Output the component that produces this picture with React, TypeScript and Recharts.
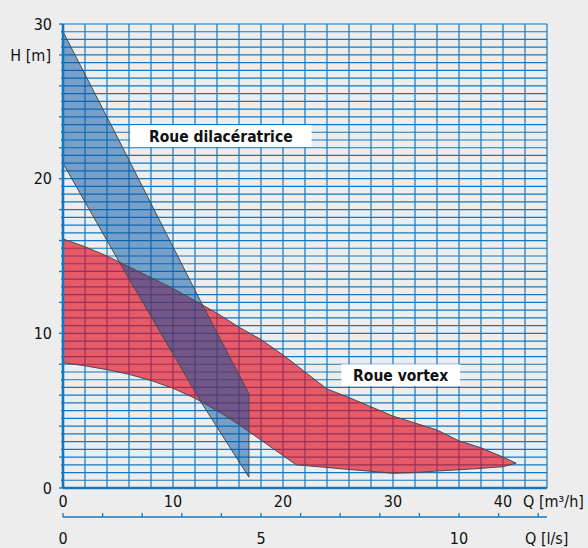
import React from "react";
import {
  ComposedChart,
  Area,
  Line,
  XAxis,
  YAxis,
  CartesianGrid,
  ReferenceArea,
  Label,
} from "recharts";

// Roue vortex: flow Q [m³/h] with the lower and upper head H [m] of the field
const vortexQ = [0, 2, 4, 6, 8, 10, 12, 14, 16, 18, 20, 21.2, 22, 24, 26, 28, 30, 32, 34, 36, 38, 40, 41.2];
const vortexLow = [8.1, 7.9, 7.65, 7.35, 6.95, 6.45, 5.8, 5.0, 4.1, 3.1, 2.1, 1.5, 1.45, 1.33, 1.2, 1.08, 0.95, 1.0, 1.1, 1.18, 1.27, 1.38, 1.6];
const vortexHigh = [16.1, 15.6, 15.0, 14.3, 13.6, 12.9, 12.1, 11.3, 10.4, 9.6, 8.6, 7.95, 7.5, 6.4, 5.85, 5.25, 4.65, 4.2, 3.75, 3.05, 2.6, 2.0, 1.6];

// Roue dilacératrice
const shredderQ = [0, 5, 12.6, 16.9];
const shredderLow = [21.0, 14.75, 5.5, 0.7];
const shredderHigh = [29.5, 22.6, 11.95, 6.1];

const qLabels = [0, 10, 20, 30, 40];
const hLabels = [0, 10, 20, 30];
const lsLabels = [0, 5, 10];

const Q_MAX = 44;
const M3H_PER_LS = 3.6;
const qGrid = Array.from({ length: Q_MAX / 2 + 1 }, (_, i) => i * 2);
const hGrid = Array.from({ length: 61 }, (_, i) => i / 2);
const lsTicks = Array.from({ length: 13 }, (_, i) => i);

const GRID = "#1577c2";
const FONT = "'Liberation Sans Narrow', 'DejaVu Sans Condensed', 'DejaVu Sans', sans-serif";

const band = (qs: number[], lo: number[], hi: number[]) =>
  qs.map((q, i) => ({ q, band: [lo[i], hi[i]] }));

const outline = (qs: number[], lo: number[], hi: number[]) => {
  const top = qs.map((q, i) => ({ q, h: hi[i] }));
  const bottom = qs.map((q, i) => ({ q, h: lo[i] })).reverse();
  return [...top, ...bottom, top[0]];
};

const vortexBand = band(vortexQ, vortexLow, vortexHigh);
const shredderBand = band(shredderQ, shredderLow, shredderHigh);
const vortexLine = outline(vortexQ, vortexLow, vortexHigh);
const shredderLine = outline(shredderQ, shredderLow, shredderHigh);
// same outline in l/s, only so the second axis gets a scale
const vortexLineLs = vortexLine.map((d) => ({ ls: d.q / M3H_PER_LS, h: d.h }));

const textStyle = { fontFamily: FONT, fontSize: 16, fill: "#111" };

const HTick = ({ x, y, payload }: any) => {
  const v = payload.value;
  const len = v % 2 === 0 ? 4 : 2;
  return (
    <g>
      <line x1={x - len} x2={x} y1={y} y2={y} stroke={GRID} strokeWidth={1.3} />
      {hLabels.includes(v) && (
        <text x={x - 11} y={y} dy="0.36em" textAnchor="end" style={textStyle}>
          {v}
        </text>
      )}
    </g>
  );
};

const QTick = ({ x, y, payload }: any) =>
  qLabels.includes(payload.value) ? (
    <text x={x} y={y + 13} dy="0.36em" textAnchor="middle" style={textStyle}>
      {payload.value}
    </text>
  ) : (
    <g />
  );

const LsTick = ({ x, y, payload }: any) => (
  <g>
    <line x1={x} x2={x} y1={y} y2={y - 4} stroke={GRID} strokeWidth={1.3} />
    {lsLabels.includes(payload.value) && (
      <text x={x} y={y + 21} dy="0.36em" textAnchor="middle" style={textStyle}>
        {payload.value}
      </text>
    )}
  </g>
);

const boxLabel = {
  position: "center" as const,
  fontFamily: FONT,
  fontSize: 15.5,
  fontWeight: 700,
  fill: "#111",
};

export default function App() {
  return (
    <div
      style={{
        position: "absolute",
        top: 0,
        left: 0,
        width: 588,
        height: 548,
        background: "#ededed",
      }}
    >
      <ComposedChart width={588} height={548} margin={{ top: 24, right: 41, bottom: 0, left: 0 }}>
        <CartesianGrid stroke={GRID} strokeWidth={1.2} />
        <XAxis
          dataKey="q"
          type="number"
          domain={[0, Q_MAX]}
          ticks={qGrid}
          interval={0}
          allowDataOverflow
          height={29}
          tickSize={0}
          tickMargin={0}
          tickLine={false}
          axisLine={{ stroke: GRID, strokeWidth: 2.6 }}
          tick={<QTick />}
        >
          <Label
            content={(p: any) => (
              <text x={p.viewBox.x + p.viewBox.width - 24} y={p.viewBox.y + 13} dy="0.36em" style={textStyle}>
                Q [m³/h]
              </text>
            )}
          />
        </XAxis>
        <XAxis
          xAxisId="ls"
          dataKey="ls"
          type="number"
          domain={[0, Q_MAX / M3H_PER_LS]}
          ticks={lsTicks}
          interval={0}
          allowDataOverflow
          height={31}
          tickSize={0}
          tickMargin={0}
          tickLine={false}
          axisLine={{ stroke: GRID, strokeWidth: 1.4 }}
          tick={<LsTick />}
        >
          <Label
            content={(p: any) => (
              <text x={p.viewBox.x + p.viewBox.width - 22} y={p.viewBox.y + 21} dy="0.36em" style={textStyle}>
                Q [l/s]
              </text>
            )}
          />
        </XAxis>
        <YAxis
          type="number"
          domain={[0, 30]}
          ticks={hGrid}
          interval={0}
          allowDataOverflow
          width={63}
          tickSize={0}
          tickMargin={0}
          tickLine={false}
          axisLine={{ stroke: GRID, strokeWidth: 2.6 }}
          tick={<HTick />}
        >
          <Label
            content={(p: any) => (
              <text x={p.viewBox.x + 51} y={p.viewBox.y + 31} dy="0.36em" textAnchor="end" style={textStyle}>
                H [m]
              </text>
            )}
          />
        </YAxis>

        <Line
          xAxisId="ls"
          data={vortexLineLs}
          dataKey="h"
          stroke="none"
          dot={false}
          activeDot={false}
          isAnimationActive={false}
        />
        <Area
          data={vortexBand}
          dataKey="band"
          type="linear"
          fill="#e3061c"
          fillOpacity={0.64}
          stroke="none"
          isAnimationActive={false}
        />
        <Line data={vortexLine} dataKey="h" type="linear" stroke="#4a4a4a" strokeWidth={1} dot={false} isAnimationActive={false} />
        <Area
          data={shredderBand}
          dataKey="band"
          type="linear"
          fill="#0053a3"
          fillOpacity={0.5}
          stroke="none"
          isAnimationActive={false}
        />
        <Line data={shredderLine} dataKey="h" type="linear" stroke="#4a4a4a" strokeWidth={1} dot={false} isAnimationActive={false} />

        <ReferenceArea
          x1={6.1}
          x2={22.6}
          y1={22.05}
          y2={23.45}
          fill="#ffffff"
          fillOpacity={1}
          stroke="none"
          label={{ value: "Roue dilacératrice", ...boxLabel }}
        />
        <ReferenceArea
          x1={25.3}
          x2={36.1}
          y1={6.6}
          y2={8.0}
          fill="#ffffff"
          fillOpacity={1}
          stroke="none"
          label={{ value: "Roue vortex", ...boxLabel }}
        />
      </ComposedChart>
    </div>
  );
}
